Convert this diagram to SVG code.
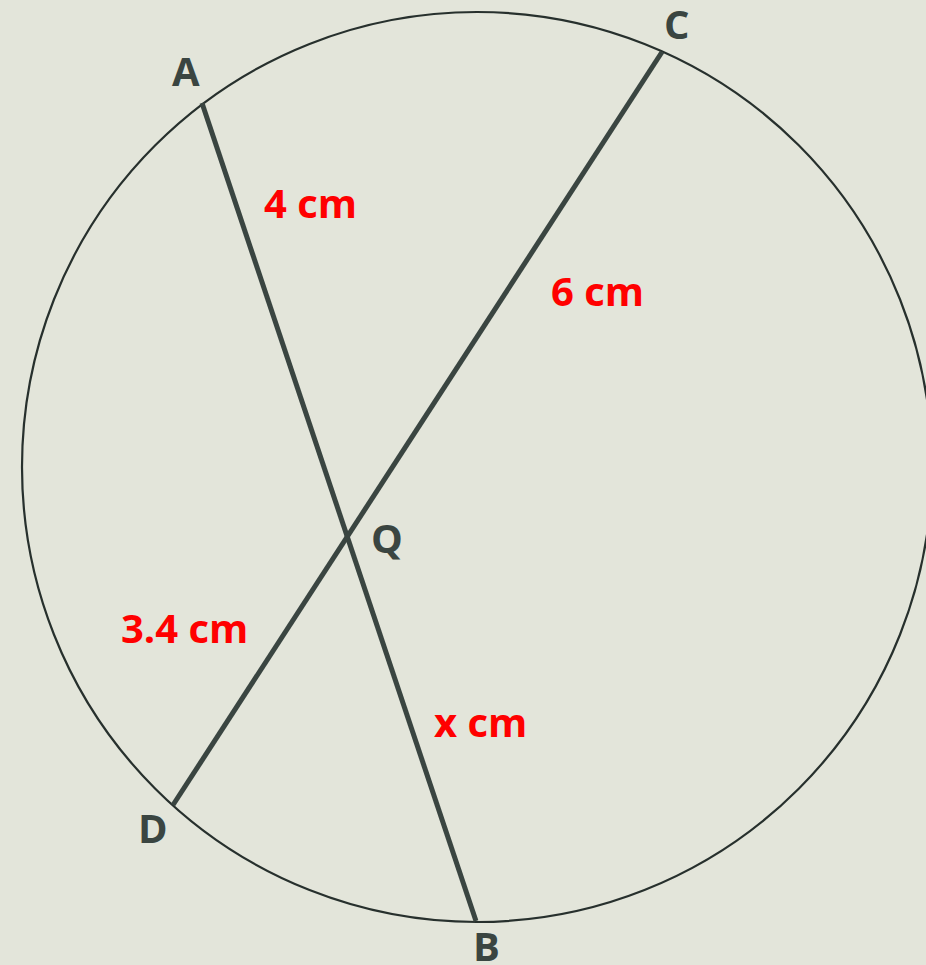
<svg xmlns="http://www.w3.org/2000/svg" width="926" height="965" viewBox="0 0 926 965">
<style>
.pt{font-family:"Open Sans","Liberation Sans",sans-serif;font-weight:bold;font-size:40px;fill:#3a4541}
.ln{font-family:"Open Sans","Liberation Sans",sans-serif;font-weight:bold;font-size:40px;fill:#ff0000}
.chord{stroke:#3a4541;stroke-width:5;fill:none}
</style>
<rect width="926" height="965" fill="#e3e5da"/>
<g id="circle"><circle cx="477" cy="467" r="455" fill="none" stroke="#27302d" stroke-width="2.2"/></g>
<g id="connectors">
<line class="chord" x1="202" y1="103" x2="476" y2="921"/>
<line class="chord" x1="662" y1="52" x2="173" y2="805"/>
</g>
<g id="A"><text class="pt" x="172" y="86">A</text></g>
<g id="C"><text class="pt" x="664" y="39">C</text></g>
<g id="Q"><text class="pt" x="371" y="553">Q</text></g>
<g id="D"><text class="pt" x="138" y="843">D</text></g>
<g id="B"><text class="pt" x="473" y="961">B</text></g>
<g id="labels">
<text class="ln" x="264" y="218">4 cm</text>
<text class="ln" x="551" y="306">6 cm</text>
<text class="ln" x="121" y="643">3.4 cm</text>
<text class="ln" x="434" y="737">x cm</text>
</g>
</svg>
